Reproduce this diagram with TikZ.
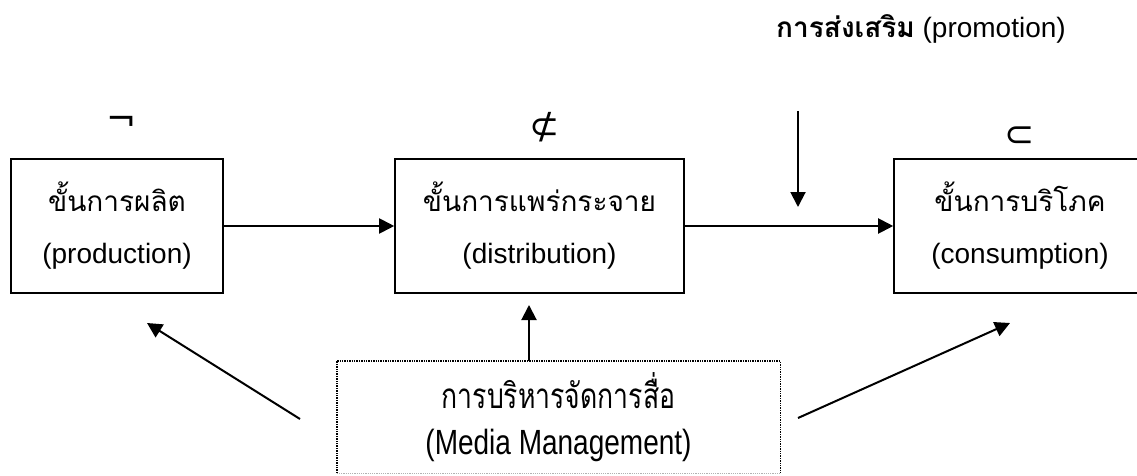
\documentclass[tikz,border=0pt]{standalone}
\usepackage{fontspec}
\usetikzlibrary{arrows.meta,calc}
\setmainfont{Liberation Sans}
\newfontfamily\thaifont[Script=Thai]{Loma}
\newfontfamily\symfont{DejaVu Sans}
\begin{document}
\begin{tikzpicture}[x=1pt,y=-1pt,
  box/.style={draw,line width=1.6pt,rectangle,inner sep=0pt,align=center,
    font=\fontsize{28}{52}\selectfont},
  arr/.style={line width=2pt,-{Triangle[length=15pt,width=15pt]}},
  sym/.style={font=\symfont\fontsize{36}{40}\selectfont,inner sep=0pt}]
\useasboundingbox (0,0) rectangle (1137,476);
\fill[white] (0,0) rectangle (1137,476);
\begin{scope}
\clip (0,0) rectangle (1137,476);
\node[box,minimum width=212pt,minimum height=134pt] (prod) at (117,226)
  {{\thaifont ขั้นการผลิต}\\(production)};
\node[box,minimum width=289pt,minimum height=134pt] (dist) at (539.5,226)
  {{\thaifont ขั้นการแพร่กระจาย}\\(distribution)};
\node[box,minimum width=252pt,minimum height=134pt] (cons) at (1020,226)
  {{\thaifont ขั้นการบริโภค}\\(consumption)};
\end{scope}
\node[inner sep=0pt,minimum width=443pt,minimum height=112pt,align=center,
  font=\fontsize{28}{46}\selectfont] (media) at (558.5,417)
  {\scalebox{0.95}[1.25]{\thaifont การบริหารจัดการสื่อ}\\\scalebox{1}[1.25]{(Media Management)}};
\draw[line width=1.4pt,densely dotted] (media.south west) -- (media.north west) -- (media.north east) -- (media.south east);
\draw[line width=1.2pt,densely dotted,black!30] (media.south west) -- (media.south east);
\node[font=\fontsize{28}{32}\selectfont,inner sep=0pt] (promo) at (921,29)
  {{\thaifont\bfseries การส่งเสริม} (promotion)};
\node[sym] (s1) at (122,124) {¬};
\node[sym] (s2) at (545,127) {⊄};
\node[sym] (s3) at (1020,137) {⊂};
\coordinate (p1) at (798,111);
\coordinate (p2) at (798,207);
\coordinate (u1) at (529,305);
\coordinate (l1) at (300,419);
\coordinate (l2) at (147,323);
\coordinate (r1) at (798,418);
\coordinate (r2) at (1010,323);
\draw[arr] (prod.east) -- (dist.west);
\draw[arr] (dist.east) -- (cons.west);
\draw[arr] (p1) -- (p2);
\draw[arr] (media.north -| u1) -- (u1);
\draw[arr] (l1) -- (l2);
\draw[arr] (r1) -- (r2);
\end{tikzpicture}
\end{document}
